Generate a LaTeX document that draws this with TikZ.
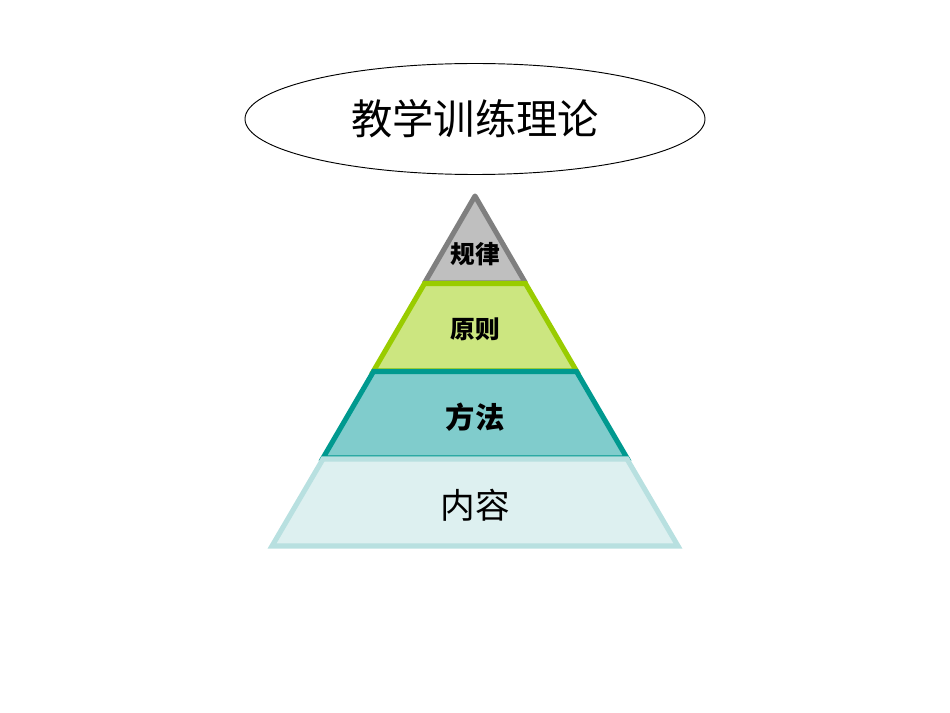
\documentclass[tikz,border=0pt]{standalone}
\usepackage{fontspec}
\setmainfont{Noto Sans CJK SC}
\newfontfamily\cjk{Noto Sans CJK SC}
\usetikzlibrary{shapes.geometric}
\definecolor{gstroke}{HTML}{7F7F7F}
\definecolor{gfill}{HTML}{BFBFBF}
\definecolor{lstroke}{HTML}{99CC00}
\definecolor{lfill}{HTML}{CCE680}
\definecolor{tstroke}{HTML}{00998F}
\definecolor{tfill}{HTML}{80CCCC}
\definecolor{bstroke}{HTML}{B8E0E0}
\definecolor{bfill}{HTML}{DDF0F0}
\tikzset{
  layer/.style={line width=3.8pt, line join=miter},
  lbl/.style={inner sep=0pt, font=\cjk},
}
\begin{document}
\begin{tikzpicture}[x=0.75pt,y=-0.75pt]
\useasboundingbox (0,0) rectangle (950,713);
\node[ellipse, draw, line width=0.7pt, minimum width=460*0.75pt, minimum height=111*0.75pt, inner sep=0pt] (title) at (475,119) {};
\node[lbl, font=\cjk\fontsize{31}{31}\selectfont] (titletext) at (475,119) {教学训练理论};
% layers
\draw[layer, draw=gstroke, fill=gfill, line join=round] (475,196) -- (525.5,283) -- (424.5,283) -- cycle;
\draw[layer, draw=lstroke, fill=lfill] (424.5,283.5) -- (525.5,283.5) -- (576.5,371) -- (373.5,371) -- cycle;
\draw[layer, draw=tstroke, fill=tfill] (373.5,371.5) -- (576.5,371.5) -- (627,458) -- (323,458) -- cycle;
\draw[layer, draw=bstroke, fill=bfill] (323,459) -- (627,459) -- (678,546) -- (272,546) -- cycle;
\node[lbl, font=\cjk\bfseries\fontsize{18.5}{18.5}\selectfont] (l1) at (475,254) {规律};
\node[lbl, font=\cjk\bfseries\fontsize{18.5}{18.5}\selectfont] (l2) at (475,329) {原则};
\node[lbl, font=\cjk\bfseries\fontsize{22}{22}\selectfont] (l3) at (475,417) {方法};
\node[lbl, font=\cjk\fontsize{26}{26}\selectfont] (l4) at (475,505) {内容};
\end{tikzpicture}
\end{document}
